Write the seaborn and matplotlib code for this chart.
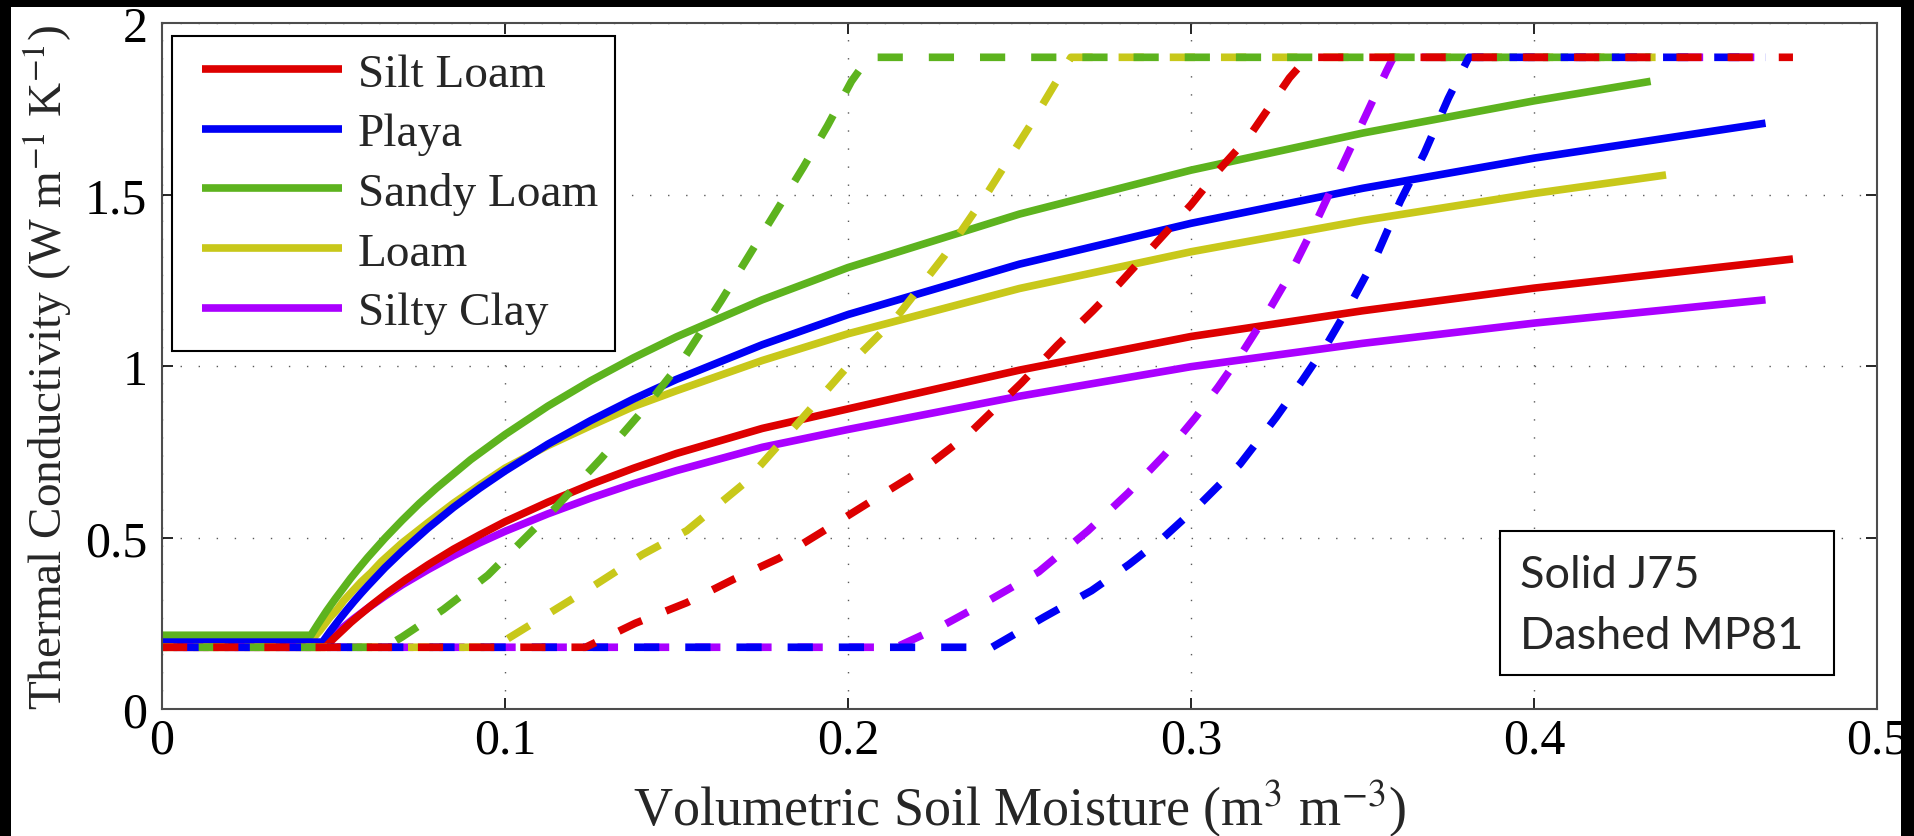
import numpy as np
import pandas as pd
import matplotlib
matplotlib.use("Agg")
import matplotlib.pyplot as plt
import seaborn as sns
from matplotlib.patches import Rectangle
from matplotlib.lines import Line2D
from matplotlib.legend_handler import HandlerLine2D

# ---------------- data ----------------
soils = ["Silt Loam", "Playa", "Sandy Loam", "Loam", "Silty Clay"]
soil_colors = ["#DD0000", "#0000F5", "#5DB31E", "#C8C81A", "#AA00FF"]

# J75 (solid)
j75_silt_loam_x = [0, 0.0476, 0.050, 0.053, 0.055, 0.057, 0.061, 0.066, 0.071, 0.0775, 0.085, 0.0925, 0.1, 0.1125, 0.125, 0.1375, 0.15, 0.175, 0.2, 0.25, 0.3, 0.35, 0.4, 0.4755]
j75_silt_loam_y = [0.18, 0.18, 0.205, 0.233, 0.252, 0.269, 0.302, 0.341, 0.377, 0.420, 0.466, 0.507, 0.546, 0.603, 0.655, 0.702, 0.745, 0.818, 0.875, 0.988, 1.086, 1.161, 1.227, 1.312]

j75_playa_x = [0, 0.0468, 0.049, 0.052, 0.054, 0.056, 0.058, 0.06, 0.065, 0.07, 0.0775, 0.085, 0.0925, 0.1, 0.1125, 0.125, 0.1375, 0.15, 0.175, 0.2, 0.25, 0.3, 0.35, 0.4, 0.4675]
j75_playa_y = [0.195, 0.195, 0.226, 0.265, 0.290, 0.314, 0.337, 0.359, 0.412, 0.460, 0.527, 0.588, 0.643, 0.694, 0.772, 0.841, 0.904, 0.961, 1.062, 1.150, 1.297, 1.416, 1.518, 1.606, 1.708]

j75_sandy_loam_x = [0, 0.0434, 0.0455, 0.048, 0.0505, 0.055, 0.0575, 0.06, 0.065, 0.07, 0.075, 0.08, 0.09, 0.1, 0.1125, 0.125, 0.1375, 0.15, 0.175, 0.2, 0.25, 0.3, 0.35, 0.4, 0.434]
j75_sandy_loam_y = [0.215, 0.215, 0.248, 0.286, 0.321, 0.381, 0.412, 0.442, 0.498, 0.550, 0.599, 0.644, 0.727, 0.800, 0.883, 0.957, 1.024, 1.085, 1.193, 1.287, 1.443, 1.571, 1.679, 1.773, 1.830]

j75_loam_x = [0, 0.0439, 0.046, 0.049, 0.051, 0.053, 0.058, 0.061, 0.064, 0.07, 0.0775, 0.085, 0.0925, 0.1, 0.1125, 0.125, 0.1375, 0.15, 0.175, 0.2, 0.25, 0.3, 0.35, 0.4, 0.4385]
j75_loam_y = [0.205, 0.205, 0.228, 0.268, 0.289, 0.316, 0.370, 0.398, 0.430, 0.484, 0.543, 0.600, 0.652, 0.702, 0.768, 0.826, 0.882, 0.928, 1.016, 1.094, 1.226, 1.333, 1.424, 1.503, 1.557]

j75_silty_clay_x = [0, 0.0468, 0.049, 0.052, 0.054, 0.056, 0.058, 0.06, 0.065, 0.07, 0.0775, 0.085, 0.0925, 0.1, 0.1125, 0.125, 0.1375, 0.15, 0.175, 0.2, 0.25, 0.3, 0.35, 0.4, 0.4675]
j75_silty_clay_y = [0.185, 0.185, 0.206, 0.232, 0.248, 0.264, 0.279, 0.294, 0.329, 0.362, 0.406, 0.447, 0.484, 0.518, 0.569, 0.615, 0.657, 0.695, 0.763, 0.815, 0.912, 0.998, 1.066, 1.125, 1.193]

# MP81 (dashed)
mp81_silt_loam_x = [0, 0.1235, 0.138, 0.153, 0.167, 0.180, 0.193, 0.209, 0.222, 0.235, 0.2505, 0.261, 0.2713, 0.2791, 0.2909, 0.300, 0.308, 0.317, 0.3287, 0.334, 0.4755]
mp81_silt_loam_y = [0.18, 0.18, 0.25, 0.31, 0.38, 0.44, 0.52, 0.62, 0.70, 0.80, 0.95, 1.06, 1.16, 1.24, 1.37, 1.47, 1.57, 1.67, 1.84, 1.90, 1.90]

mp81_playa_x = [0, 0.242, 0.257, 0.271, 0.282, 0.292, 0.3026, 0.3143, 0.3248, 0.3326, 0.340, 0.347, 0.354, 0.361, 0.368, 0.375, 0.381, 0.4675]
mp81_playa_y = [0.18, 0.18, 0.267, 0.345, 0.422, 0.50, 0.597, 0.714, 0.85, 0.96, 1.07, 1.19, 1.32, 1.48, 1.62, 1.78, 1.90, 1.90]

mp81_sandy_loam_x = [0, 0.065, 0.07, 0.082, 0.095, 0.104, 0.115, 0.128, 0.141, 0.152, 0.163, 0.171, 0.179, 0.187, 0.194, 0.201, 0.206, 0.434]
mp81_sandy_loam_y = [0.18, 0.18, 0.21, 0.29, 0.39, 0.48, 0.59, 0.73, 0.88, 1.02, 1.19, 1.32, 1.45, 1.58, 1.70, 1.83, 1.90, 1.90]

mp81_loam_x = [0, 0.097, 0.100, 0.113, 0.126, 0.140, 0.153, 0.170, 0.186, 0.200, 0.214, 0.228, 0.241, 0.253, 0.265, 0.4385]
mp81_loam_y = [0.18, 0.18, 0.20, 0.28, 0.36, 0.45, 0.52, 0.66, 0.84, 1.00, 1.14, 1.32, 1.51, 1.70, 1.90, 1.90]

mp81_silty_clay_x = [0, 0.214, 0.227, 0.241, 0.2556, 0.270, 0.2817, 0.2922, 0.3013, 0.308, 0.315, 0.322, 0.329, 0.336, 0.343, 0.350, 0.357, 0.359, 0.4675]
mp81_silty_clay_y = [0.18, 0.18, 0.24, 0.316, 0.40, 0.52, 0.63, 0.74, 0.85, 0.94, 1.04, 1.15, 1.27, 1.41, 1.56, 1.71, 1.86, 1.90, 1.90]

x_ticks = [0, 0.1, 0.2, 0.3, 0.4, 0.5]
x_tick_labels = ["0", "0.1", "0.2", "0.3", "0.4", "0.5"]
y_ticks = [0, 0.5, 1, 1.5, 2]
y_tick_labels = ["0", "0.5", "1", "1.5", "2"]

# ---------------- build tidy table ----------------
series = {
    ("Silt Loam", "J75"): (j75_silt_loam_x, j75_silt_loam_y),
    ("Playa", "J75"): (j75_playa_x, j75_playa_y),
    ("Sandy Loam", "J75"): (j75_sandy_loam_x, j75_sandy_loam_y),
    ("Loam", "J75"): (j75_loam_x, j75_loam_y),
    ("Silty Clay", "J75"): (j75_silty_clay_x, j75_silty_clay_y),
    ("Silt Loam", "MP81"): (mp81_silt_loam_x, mp81_silt_loam_y),
    ("Playa", "MP81"): (mp81_playa_x, mp81_playa_y),
    ("Sandy Loam", "MP81"): (mp81_sandy_loam_x, mp81_sandy_loam_y),
    ("Loam", "MP81"): (mp81_loam_x, mp81_loam_y),
    ("Silty Clay", "MP81"): (mp81_silty_clay_x, mp81_silty_clay_y),
}
frames = []
for (soil, model), (xs, ys) in series.items():
    frames.append(pd.DataFrame({"moisture": xs, "k": ys, "soil": soil, "model": model}))
df = pd.concat(frames, ignore_index=True)
color_map = dict(zip(soils, soil_colors))

# ---------------- style ----------------
sns.set_style("ticks")
plt.rcParams["font.family"] = ["Liberation Serif", "DejaVu Serif"]
plt.rcParams["mathtext.fontset"] = "stix"

W, H = 1915, 837
fig = plt.figure(figsize=(W / 100, H / 100), dpi=100)
fig.patch.set_facecolor("white")
ax = fig.add_axes([162 / W, 1 - 710 / H, (1877 - 162) / W, (710 - 24) / H])
ax.set_facecolor("white")

LW = 5.5
draw_order = ["Silty Clay", "Loam", "Sandy Loam", "Playa", "Silt Loam"]
dash_offsets = {"Silt Loam": 0.0, "Loam": 1.3, "Sandy Loam": 2.6, "Silty Clay": 3.9, "Playa": 5.2}

handles = {}
for model in ["J75", "MP81"]:
    for soil in draw_order:
        sub = df[(df["soil"] == soil) & (df["model"] == model)]
        n_before = len(ax.lines)
        sns.lineplot(data=sub, x="moisture", y="k", color=color_map[soil], lw=LW,
                     sort=False, estimator=None, ax=ax, legend=False)
        line = ax.lines[n_before]
        line.set_solid_joinstyle("round")
        if model == "MP81":
            line.set_linestyle((dash_offsets[soil], (3.3, 3.4)))
            line.set_dash_capstyle("butt")
        else:
            line.set_solid_capstyle("butt")
            handles[soil] = line

ax.set_xlim(0, 0.5)
ax.set_ylim(0, 2)
ax.set_xticks(x_ticks)
ax.set_xticklabels(x_tick_labels)
ax.set_yticks(y_ticks)
ax.set_yticklabels(y_tick_labels)

ax.grid(True, color="0.35", lw=1.0, linestyle=(0, (1, 12)))
ax.set_axisbelow(True)
ax.tick_params(axis="both", direction="in", length=8, width=1.2, color="black",
               top=True, right=True, labelsize=36, labelcolor="black")
ax.tick_params(axis="x", pad=6)
ax.tick_params(axis="y", pad=10.5)
for s in ax.spines.values():
    s.set_color("0.3")
    s.set_linewidth(1.5)
    s.set_visible(True)

ax.set_xlabel("Volumetric Soil Moisture (m$^{3}$ m$^{-3}$)", fontsize=39)
ax.set_ylabel("Thermal Conductivity (W m$^{-1}$ K$^{-1}$)", fontsize=34)
ax.xaxis.set_label_coords(0.5, -0.1)
ax.yaxis.set_label_coords(-0.0513, 0.5)

leg = ax.legend([handles[s] for s in soils], soils, loc="upper left",
                bbox_to_anchor=((172 - 162) / 1715, (710 - 37) / 686),
                borderaxespad=0, fontsize=34, handlelength=3.52, handletextpad=0.06,
                labelspacing=0.35, borderpad=0.355, fancybox=False, framealpha=1,
                edgecolor="black",
                handler_map={Line2D: HandlerLine2D(numpoints=2, marker_pad=0.28)})
leg.get_frame().set_linewidth(1.5)

# annotation box
ax.add_patch(Rectangle(((1500 - 162) / 1715, (710 - 676) / 686),
                       (1834 - 1500) / 1715, (676 - 532) / 686,
                       transform=ax.transAxes, fc="white", ec="black", lw=1.5, zorder=5))
ax.text((1520 - 162) / 1715, (710 - 588) / 686, "Solid J75", transform=ax.transAxes,
        fontsize=32.5, family=["Lato", "DejaVu Sans"], va="baseline", ha="left", zorder=6)
ax.text((1520 - 162) / 1715, (710 - 649) / 686, "Dashed MP81", transform=ax.transAxes,
        fontsize=32.5, family=["Lato", "DejaVu Sans"], va="baseline", ha="left", zorder=6)

# black border of the scanned figure
for (x0, y0, w, h) in [(0, 0, 11 / W, 1), (0, 1 - 8 / H, 1, 8 / H), (1901 / W, 0, 14 / W, 1)]:
    fig.add_artist(Rectangle((x0, y0), w, h, transform=fig.transFigure,
                             fc="black", ec="none", zorder=100))

fig.savefig("out.png", dpi=100, facecolor="white")
